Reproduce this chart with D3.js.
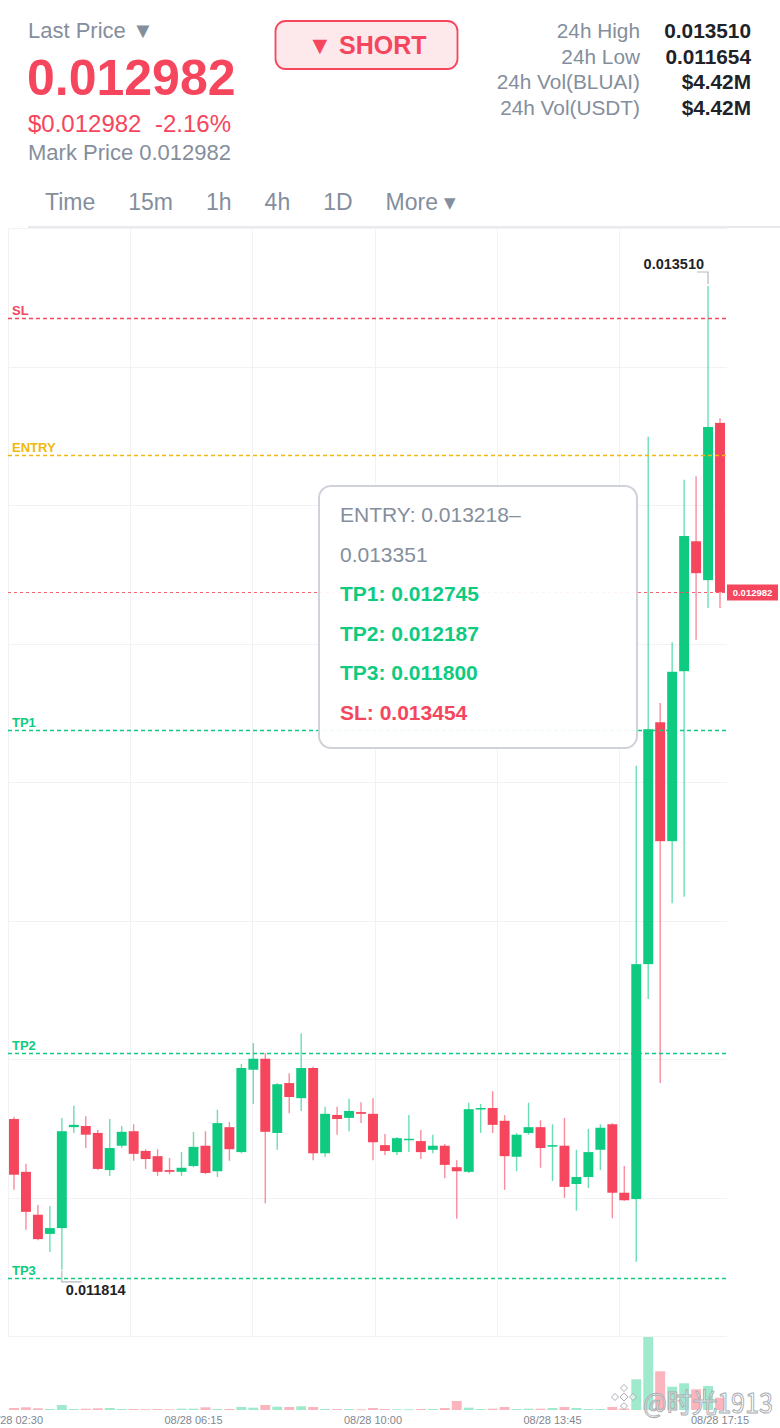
<!DOCTYPE html>
<html>
<head>
<meta charset="utf-8">
<script src="https://cdn.jsdelivr.net/npm/d3@7"></script>
<style>
body { margin: 0; background: #fff; }
svg { display: block; font-family: "Liberation Sans", Arial, sans-serif; }
</style>
</head>
<body>
<svg width="780" height="1428"></svg>
<script>
// 15m candles, 08/28
const times = [
  "08/28 02:30","08/28 02:45","08/28 03:00","08/28 03:15","08/28 03:30","08/28 03:45","08/28 04:00","08/28 04:15","08/28 04:30","08/28 04:45",
  "08/28 05:00","08/28 05:15","08/28 05:30","08/28 05:45","08/28 06:00","08/28 06:15","08/28 06:30","08/28 06:45","08/28 07:00","08/28 07:15",
  "08/28 07:30","08/28 07:45","08/28 08:00","08/28 08:15","08/28 08:30","08/28 08:45","08/28 09:00","08/28 09:15","08/28 09:30","08/28 09:45",
  "08/28 10:00","08/28 10:15","08/28 10:30","08/28 10:45","08/28 11:00","08/28 11:15","08/28 11:30","08/28 11:45","08/28 12:00","08/28 12:15",
  "08/28 12:30","08/28 12:45","08/28 13:00","08/28 13:15","08/28 13:30","08/28 13:45","08/28 14:00","08/28 14:15","08/28 14:30","08/28 14:45",
  "08/28 15:00","08/28 15:15","08/28 15:30","08/28 15:45","08/28 16:00","08/28 16:15","08/28 16:30","08/28 16:45","08/28 17:00","08/28 17:15"
];
const open = [
  0.012074,0.011983,0.011909,0.011876,0.011886,0.012060,0.012062,0.012050,0.011986,0.012028,
  0.012053,0.012019,0.012010,0.011986,0.011983,0.011993,0.012028,0.011984,0.012060,0.012017,
  0.012159,0.012178,0.012050,0.012136,0.012110,0.012162,0.012015,0.012081,0.012076,0.012086,
  0.012083,0.012029,0.012017,0.012038,0.012036,0.012021,0.012028,0.011991,0.011983,0.012091,
  0.012093,0.012071,0.012009,0.012050,0.012060,0.012028,0.012028,0.011962,0.011974,0.012021,
  0.012065,0.011947,0.011936,0.012341,0.012758,0.012553,0.012846,0.013070,0.013003,0.013274
];
const high = [
  0.012078,0.011997,0.011926,0.011924,0.012076,0.012097,0.012079,0.012055,0.012074,0.012062,
  0.012065,0.012022,0.012022,0.012007,0.012017,0.012052,0.012053,0.012090,0.012069,0.012169,
  0.012205,0.012188,0.012136,0.012153,0.012222,0.012164,0.012095,0.012095,0.012109,0.012103,
  0.012110,0.012048,0.012043,0.012081,0.012055,0.012047,0.012031,0.012003,0.012102,0.012100,
  0.012122,0.012081,0.012050,0.012102,0.012072,0.012065,0.012076,0.012021,0.012057,0.012065,
  0.012067,0.011993,0.012683,0.013250,0.012791,0.012896,0.013176,0.013182,0.013510,0.013282
];
const low = [
  0.011952,0.011883,0.011865,0.011845,0.011814,0.012050,0.012024,0.011986,0.011976,0.012024,
  0.012002,0.011988,0.011976,0.011979,0.011976,0.011991,0.011979,0.011974,0.012002,0.012015,
  0.012100,0.011929,0.012021,0.012084,0.012088,0.012003,0.012009,0.012047,0.012053,0.012067,
  0.012003,0.012012,0.012012,0.012017,0.012005,0.012015,0.011972,0.011902,0.011981,0.012050,
  0.012050,0.011952,0.011984,0.012047,0.011990,0.011967,0.011938,0.011916,0.011955,0.011986,
  0.011903,0.011933,0.011828,0.012281,0.012136,0.012446,0.012457,0.012900,0.012955,0.012955
];
const close = [
  0.011978,0.011914,0.011867,0.011886,0.012053,0.012064,0.012047,0.011988,0.012024,0.012052,
  0.012014,0.012005,0.011983,0.011983,0.011990,0.012026,0.011981,0.012067,0.012022,0.012162,
  0.012178,0.012052,0.012134,0.012112,0.012162,0.012015,0.012083,0.012074,0.012088,0.012083,
  0.012034,0.012019,0.012041,0.012040,0.012017,0.012028,0.011995,0.011984,0.012091,0.012093,
  0.012064,0.012010,0.012047,0.012060,0.012024,0.012029,0.011957,0.011974,0.012017,0.012059,
  0.011947,0.011934,0.012341,0.012746,0.012553,0.012845,0.013079,0.013015,0.013267,0.012982
];
// volume in thousands
const volume = [
  20,27,17,10,50,10,13,17,20,10,
  10,7,10,7,13,13,27,10,10,30,
  23,50,33,30,37,30,10,10,10,7,
  20,10,7,7,10,10,20,90,23,10,
  13,30,10,13,13,20,30,20,10,10,
  30,15,307,730,387,233,267,207,240,123
];

const priceTicks = ["0.01361","0.01329","0.01297","0.01265","0.01234","0.01202","0.01170"];
const timeTicks = ["08/28 02:30","08/28 06:15","08/28 10:00","08/28 13:45","08/28 17:15"];

const levelNames = ["SL","ENTRY","TP1","TP2","TP3"];
const levelValues = [0.013454, 0.013218, 0.012745, 0.012187, 0.011800];
const lastPrice = 0.012982;
const change = "-2.16%";

const statLabels = ["24h High","24h Low","24h Vol(BLUAI)","24h Vol(USDT)"];
const statValues = ["0.013510","0.011654","$4.42M","$4.42M"];
const tabs = ["Time","15m","1h","4h","1D","More \u25BE"];
const noteLines = ["ENTRY: 0.013218\u2013","0.013351","TP1: 0.012745","TP2: 0.012187","TP3: 0.011800","SL: 0.013454"];

const red = '#f6465d', green = '#0ecb81', gold = '#f0b90b', grey = '#848e9c', dark = '#1e2329';
const levelColors = [red, gold, green, green, green];
const noteColors = [grey, grey, green, green, green, red];
const px = v => Math.round(v) + 0.5;

const svg = d3.select('svg');

// ---------- header ----------
const head = svg.append('g');
head.append('text').attr('x', 28).attr('y', 38).attr('font-size', 22).attr('fill', grey).text('Last Price \u25BC');
head.append('text').attr('x', 27).attr('y', 95).attr('font-size', 50).attr('font-weight', 'bold')
  .attr('fill', red).text(lastPrice.toFixed(6));
const sub = head.append('text').attr('y', 132).attr('font-size', 24).attr('fill', red);
sub.append('tspan').attr('x', 28).text('$' + lastPrice.toFixed(6));
sub.append('tspan').attr('x', 155).text(change);
head.append('text').attr('x', 28).attr('y', 160).attr('font-size', 22).attr('fill', grey)
  .text('Mark Price ' + lastPrice.toFixed(6));

head.append('rect').attr('x', 275.5).attr('y', 21).attr('width', 182).attr('height', 48).attr('rx', 10)
  .attr('fill', '#fde8eb').attr('stroke', red).attr('stroke-width', 1.8);
head.append('text').attr('x', 367).attr('y', 54).attr('text-anchor', 'middle').attr('font-size', 25)
  .attr('font-weight', 'bold').attr('fill', red).text('\u25BC SHORT');

statLabels.forEach((s, i) => {
  const y = 38 + i * 25.7;
  head.append('text').attr('x', 640).attr('y', y).attr('text-anchor', 'end').attr('font-size', 20.8)
    .attr('fill', grey).text(s);
  head.append('text').attr('x', 751).attr('y', y).attr('text-anchor', 'end').attr('font-size', 20.8)
    .attr('font-weight', 'bold').attr('fill', dark).text(statValues[i]);
});

let tx = 45;
tabs.forEach(t => {
  const el = head.append('text').attr('x', tx).attr('y', 210).attr('font-size', 23).attr('fill', grey).text(t);
  tx += el.node().getComputedTextLength() + 33;
});
head.append('line').attr('x1', 28).attr('x2', 780).attr('y1', 227).attr('y2', 227)
  .attr('stroke', '#e8eaed').attr('stroke-width', 2);

// ---------- scales ----------
const xScale = d3.scaleBand()
  .domain(times)
  .range([8, 726])
  .paddingInner(0.17)
  .paddingOuter(0.085);
const bw = xScale.bandwidth();
const xc = t => xScale(t) + bw / 2;

const yScale = d3.scaleLinear()
  .domain([0.0117, 0.01361])
  .range([1336, 228]);

const vScale = d3.scaleLinear()
  .domain([0, d3.max(volume)])
  .range([1410, 1337]);

const candles = times.map((t, i) => ({ t, o: open[i], h: high[i], l: low[i], c: close[i], v: volume[i] }));
const col = d => d.c >= d.o ? green : red;

// ---------- grid ----------
const grid = svg.append('g').attr('stroke', '#f1f2f4').attr('stroke-width', 1);
grid.selectAll('.hg')
  .data(d3.range(9))
  .enter()
  .append('line')
  .attr('x1', 8).attr('x2', 727)
  .attr('y1', i => px(228 + i * (1336 - 228) / 8))
  .attr('y2', i => px(228 + i * (1336 - 228) / 8));
grid.selectAll('.vg')
  .data(d3.range(6))
  .enter()
  .append('line')
  .attr('x1', i => px(8 + i * 122.2)).attr('x2', i => px(8 + i * 122.2))
  .attr('y1', 228).attr('y2', 1336);

// ---------- volume ----------
svg.append('g').selectAll('.vol')
  .data(candles)
  .enter()
  .append('rect')
  .attr('x', d => xScale(d.t))
  .attr('width', bw)
  .attr('y', d => vScale(d.v))
  .attr('height', d => Math.max(0.8, 1410 - vScale(d.v)))
  .attr('fill', col)
  .attr('fill-opacity', 0.4);

// ---------- candles ----------
const cg = svg.append('g');
cg.selectAll('.wick')
  .data(candles)
  .enter()
  .append('line')
  .attr('x1', d => xc(d.t)).attr('x2', d => xc(d.t))
  .attr('y1', d => yScale(d.h)).attr('y2', d => yScale(d.l))
  .attr('stroke', col).attr('stroke-opacity', 0.62).attr('stroke-width', 1.4);
cg.selectAll('.body')
  .data(candles)
  .enter()
  .append('rect')
  .attr('x', d => xScale(d.t))
  .attr('width', bw)
  .attr('y', d => yScale(Math.max(d.o, d.c)))
  .attr('height', d => Math.max(1.5, Math.abs(yScale(d.o) - yScale(d.c))))
  .attr('fill', col);

// ---------- level lines ----------
const lv = svg.append('g');
levelValues.forEach((v, i) => {
  const y = px(yScale(v));
  lv.append('line').attr('x1', 8).attr('x2', 727).attr('y1', y).attr('y2', y)
    .attr('stroke', levelColors[i]).attr('stroke-width', 1.3).attr('stroke-dasharray', '4,3');
  lv.append('text').attr('x', 12).attr('y', y - 4).attr('font-size', 13).attr('font-weight', 'bold')
    .attr('fill', levelColors[i]).text(levelNames[i]);
});
const lpY = px(yScale(lastPrice));
lv.append('line').attr('x1', 8).attr('x2', 727).attr('y1', lpY).attr('y2', lpY)
  .attr('stroke', red).attr('stroke-opacity', 0.85).attr('stroke-width', 1).attr('stroke-dasharray', '3,3');

// ---------- price axis ----------
svg.append('clipPath').attr('id', 'axclip').append('rect')
  .attr('x', 720).attr('y', 228).attr('width', 60).attr('height', 1200);
const yAxis = svg.append('g')
  .attr('clip-path', 'url(#axclip)')
  .attr('transform', 'translate(727,0)')
  .call(d3.axisRight(yScale)
    .tickValues(priceTicks.map(Number).filter(v => Math.abs(yScale(v) - yScale(lastPrice)) > 12))
    .tickFormat(v => priceTicks.find(s => +s === v))
    .tickSize(0)
    .tickPadding(3));
yAxis.select('.domain').remove();
yAxis.selectAll('text').attr('font-size', 10).attr('fill', '#9aa1ab').attr('font-family', '"Liberation Sans", Arial, sans-serif');

svg.append('rect').attr('x', 727).attr('y', lpY - 8).attr('width', 51).attr('height', 16).attr('fill', red);
svg.append('text').attr('x', 752.5).attr('y', lpY + 3.5).attr('text-anchor', 'middle').attr('font-size', 9.5)
  .attr('font-weight', 'bold').attr('fill', '#fff').text(lastPrice.toFixed(6));

// ---------- time axis ----------
const xAxis = svg.append('g')
  .attr('transform', 'translate(0,1411)')
  .call(d3.axisBottom(xScale).tickValues(timeTicks).tickSize(0).tickPadding(5));
xAxis.select('.domain').remove();
xAxis.selectAll('text').attr('font-size', 11).attr('fill', '#7f8791').attr('font-family', '"Liberation Sans", Arial, sans-serif');

// ---------- high / low marks ----------
const hiIdx = d3.maxIndex(high), loIdx = d3.minIndex(low);
const hx = xc(times[hiIdx]), hy = yScale(high[hiIdx]);
svg.append('path').attr('d', `M${hx - 11},${hy - 14}H${hx}V${hy - 2}`)
  .attr('fill', 'none').attr('stroke', '#b3b9c2').attr('stroke-width', 1.2);
svg.append('text').attr('x', hx - 4).attr('y', hy - 17).attr('text-anchor', 'end')
  .attr('font-size', 14.5).attr('font-weight', 'bold').attr('fill', dark).text(high[hiIdx].toFixed(6));
const lx = xc(times[loIdx]), ly = yScale(low[loIdx]);
svg.append('path').attr('d', `M${lx},${ly + 1}V${ly + 12}H${lx + 20}`)
  .attr('fill', 'none').attr('stroke', '#b3b9c2').attr('stroke-width', 1.2);
svg.append('text').attr('x', lx + 4).attr('y', ly + 25)
  .attr('font-size', 14.5).attr('font-weight', 'bold').attr('fill', dark).text(low[loIdx].toFixed(6));

// ---------- note box ----------
const nb = svg.append('g');
nb.append('rect').attr('x', 319).attr('y', 486).attr('width', 318).attr('height', 262).attr('rx', 12)
  .attr('fill', '#fff').attr('fill-opacity', 0.93).attr('stroke', '#cfd3d9').attr('stroke-width', 2);
noteLines.forEach((s, i) => {
  nb.append('text').attr('x', 340).attr('y', 522 + i * 39.6).attr('font-size', 21)
    .attr('font-weight', i < 2 ? 'normal' : 'bold').attr('fill', noteColors[i]).text(s);
});

// ---------- watermark ----------
const wm = svg.append('g').attr('fill', '#fff').attr('fill-opacity', 0.55).attr('stroke', '#a9adb3').attr('stroke-width', 1);
const lcx = 624, lcy = 1397;
[[0, 0, 4], [0, -9, 3.5], [0, 9, 3.5], [-9, 0, 3.5], [9, 0, 3.5]].forEach(([dx, dy, r]) => {
  wm.append('path').attr('d', `M${lcx + dx},${lcy + dy - r}L${lcx + dx + r},${lcy + dy}L${lcx + dx},${lcy + dy + r}L${lcx + dx - r},${lcy + dy}Z`);
});
wm.append('text').attr('x', 643).attr('y', 1413).attr('font-size', 27)
  .attr('textLength', 130).attr('lengthAdjust', 'spacingAndGlyphs')
  .attr('font-family', '"Noto Sans CJK SC", "Liberation Sans", sans-serif').text('@\u65F6\u51491913');
</script>
</body>
</html>
